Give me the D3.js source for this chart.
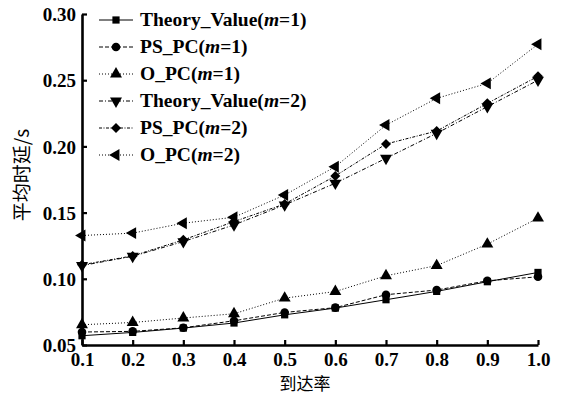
<!DOCTYPE html>
<html>
<head>
<meta charset="utf-8">
<script src="https://cdn.jsdelivr.net/npm/d3@7"></script>
<style>
  body { margin: 0; background: #fff; }
  text { fill: #000; }
</style>
</head>
<body>
<script>
const width = 563;
const height = 395;
const margin = { top: 14, right: 25, bottom: 50, left: 82 };

// arrival rate categories
const rates = [0.1, 0.2, 0.3, 0.4, 0.5, 0.6, 0.7, 0.8, 0.9, 1.0];
const yTicks = [0.05, 0.10, 0.15, 0.20, 0.25, 0.30];

// average delay (s)
const theoryM1 = [0.057, 0.0595, 0.0628, 0.0666, 0.0728, 0.0779, 0.0842, 0.0905, 0.0978, 0.1048];
const psM1     = [0.0598, 0.0603, 0.063, 0.0683, 0.0746, 0.0782, 0.0880, 0.0915, 0.0985, 0.1015];
const oM1      = [0.0653, 0.067, 0.0704, 0.0736, 0.0854, 0.0904, 0.1023, 0.1100, 0.1262, 0.1458];
const theoryM2 = [0.110, 0.117, 0.1281, 0.1407, 0.1558, 0.1722, 0.1910, 0.2099, 0.2300, 0.2500];
const psM2     = [0.1106, 0.1173, 0.1294, 0.1432, 0.1565, 0.1777, 0.2018, 0.2116, 0.2325, 0.2530];
const oM2      = [0.1327, 0.1345, 0.1420, 0.1465, 0.1633, 0.1847, 0.2161, 0.2363, 0.2476, 0.2772];

const seriesNames = ['Theory_Value', 'PS_PC', 'O_PC', 'Theory_Value', 'PS_PC', 'O_PC'];
const seriesM = [1, 1, 1, 2, 2, 2];
const seriesValues = [theoryM1, psM1, oM1, theoryM2, psM2, oM2];

const dashes = [null, '4,2', '1,2', '4,2,1,2', '3,1.5,1,1.5', '1,2'];
const symbols = [
  { type: d3.symbolSquare, size: 52, rotate: 0 },
  { type: d3.symbolCircle, size: 58, rotate: 0 },
  { type: d3.symbolTriangle, size: 62, rotate: 0 },
  { type: d3.symbolTriangle, size: 62, rotate: 180 },
  { type: d3.symbolSquare, size: 50, rotate: 45 },
  { type: d3.symbolTriangle, size: 62, rotate: -90 },
];

const serif = '"Liberation Serif", "Times New Roman", serif';
const cjk = '"Noto Sans CJK SC", sans-serif';

const svg = d3.select('body')
  .append('svg')
    .attr('width', width)
    .attr('height', height)
    .attr('viewBox', [0, 0, width, height].join(' '));

const x = d3.scaleLinear()
  .domain([0.1, 1.0])
  .range([margin.left, width - margin.right]);

const y = d3.scaleLinear()
  .domain([0.05, 0.30])
  .range([height - margin.bottom, margin.top]);

const xAxis = d3.axisBottom(x)
  .tickValues(rates)
  .tickFormat(d3.format('.1f'))
  .tickSizeInner(-5)
  .tickSizeOuter(0)
  .tickPadding(6);

const yAxis = d3.axisLeft(y)
  .tickValues(yTicks)
  .tickFormat(d3.format('.2f'))
  .tickSizeInner(-5)
  .tickSizeOuter(0)
  .tickPadding(6);

const gx = svg.append('g')
  .attr('transform', `translate(0, ${height - margin.bottom})`)
  .call(xAxis);

const gy = svg.append('g')
  .attr('transform', `translate(${margin.left}, 0)`)
  .call(yAxis);

[gx, gy].forEach((g) => {
  g.select('.domain').attr('stroke', '#000').attr('stroke-width', 2.6);
  g.selectAll('.tick line').attr('stroke', '#000').attr('stroke-width', 2.2);
  g.selectAll('.tick text')
    .attr('fill', '#000')
    .style('font-family', serif)
    .style('font-weight', 'bold')
    .style('font-size', '19px');
});
gx.selectAll('.tick text').attr('dy', '0.8em');
gy.selectAll('.tick text').attr('dy', '0.35em');

// axis titles
svg.append('text')
  .attr('x', 305)
  .attr('y', 390)
  .attr('text-anchor', 'middle')
  .style('font-family', cjk)
  .style('font-size', '17px')
  .text('到达率');

svg.append('text')
  .attr('transform', `translate(29, 175) rotate(-90)`)
  .attr('text-anchor', 'middle')
  .style('font-family', cjk)
  .style('font-size', '19px')
  .text('平均时延/s');

const line = d3.line()
  .x((d, i) => x(rates[i]))
  .y((d) => y(d));

const symbolPath = (i) => d3.symbol().type(symbols[i].type).size(symbols[i].size)();

const series = svg.append('g')
  .selectAll('g')
  .data(seriesValues)
  .enter()
    .append('g');

series.append('path')
  .attr('fill', 'none')
  .attr('stroke', '#000')
  .attr('stroke-width', 1)
  .attr('stroke-dasharray', (d, i) => dashes[i])
  .attr('d', (d) => line(d));

series.each(function (values, i) {
  d3.select(this).selectAll('.marker')
    .data(values)
    .enter()
      .append('path')
      .attr('class', 'marker')
      .attr('fill', '#000')
      .attr('transform', (d, j) => `translate(${x(rates[j])}, ${y(d)}) rotate(${symbols[i].rotate})`)
      .attr('d', symbolPath(i));
});

// legend
const legend = svg.append('g')
  .selectAll('g')
  .data(seriesNames)
  .enter()
    .append('g')
    .attr('transform', (d, i) => `translate(99, ${20 + i * 27})`);

legend.append('line')
  .attr('x1', 0)
  .attr('x2', 34)
  .attr('stroke', '#000')
  .attr('stroke-width', 1)
  .attr('stroke-dasharray', (d, i) => dashes[i]);

legend.append('path')
  .attr('fill', '#000')
  .attr('transform', (d, i) => `translate(17, 0) rotate(${symbols[i].rotate})`)
  .attr('d', (d, i) => symbolPath(i));

const label = legend.append('text')
  .attr('x', 41)
  .attr('y', 0)
  .attr('dy', '0.3em')
  .style('font-family', serif)
  .style('font-weight', 'bold')
  .style('font-size', '19.5px');

label.append('tspan').text((d) => d + '(');
label.append('tspan').style('font-style', 'italic').text('m');
label.append('tspan').text((d, i) => '=' + seriesM[i] + ')');
</script>
</body>
</html>
